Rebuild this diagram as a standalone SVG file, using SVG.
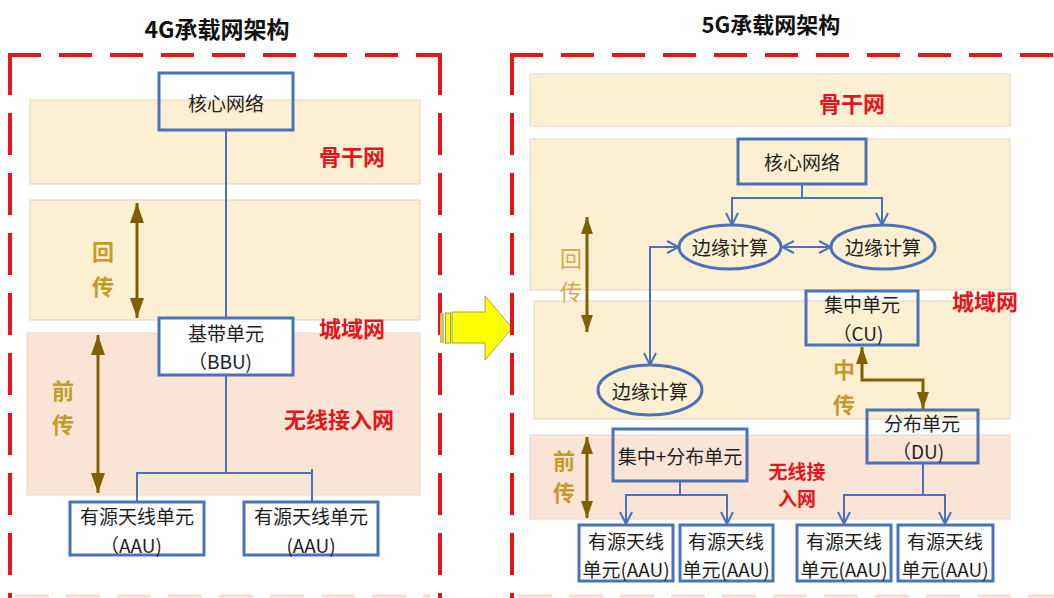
<svg xmlns="http://www.w3.org/2000/svg" width="1054" height="598" viewBox="0 0 1054 598">
<style>
.band{fill:#fdf0d2;stroke:#ddd6c6;stroke-width:1}
.pink{fill:#fae4d5;stroke:#e6d6cc;stroke-width:1}
.box{fill:none;stroke:#4a72b8;stroke-width:3}
.boxw{fill:#ffffff;stroke:#4a72b8;stroke-width:3}
.ell{fill:none;stroke:#4a72b8;stroke-width:3}
.t{font-family:"Noto Sans CJK SC","Noto Sans",sans-serif;font-size:19px;fill:#1e1e1e;text-anchor:middle;dominant-baseline:central}
.r{font-family:"Noto Sans CJK SC","Noto Sans",sans-serif;font-size:22px;font-weight:bold;fill:#e8141c;text-anchor:middle;dominant-baseline:central}
.g{font-family:"Noto Sans CJK SC","Noto Sans",sans-serif;font-size:22px;font-weight:bold;fill:#c49a2b;text-anchor:middle;dominant-baseline:central}
.title{font-family:"Noto Sans CJK SC","Noto Sans",sans-serif;font-size:23px;font-weight:bold;fill:#111;text-anchor:middle;dominant-baseline:central}
.frameH{fill:none;stroke:#e8141c;stroke-width:4;stroke-dasharray:33 18}
.frameV{fill:none;stroke:#e8141c;stroke-width:4;stroke-dasharray:42 18}
.conn{fill:none;stroke:#4a72b8;stroke-width:2}
.brown{fill:none;stroke:#7f6000;stroke-width:3}
</style>
<defs>
<marker id="open" viewBox="0 0 14 14" refX="13" refY="7" markerWidth="14" markerHeight="14" markerUnits="userSpaceOnUse" orient="auto-start-reverse">
<path d="M1,1 L13,7 L1,13" fill="none" stroke="#4a72b8" stroke-width="2"/>
</marker>
<marker id="tri" viewBox="0 0 20 14" refX="20" refY="7" markerWidth="20" markerHeight="14" markerUnits="userSpaceOnUse" orient="auto-start-reverse">
<path d="M0,0 L20,7 L0,14 Z" fill="#7f6000"/>
</marker>
<marker id="triS" viewBox="0 0 17 12" refX="17" refY="6" markerWidth="17" markerHeight="12" markerUnits="userSpaceOnUse" orient="auto-start-reverse">
<path d="M0,0 L17,6 L0,12 Z" fill="#7f6000"/>
</marker>
</defs>
<rect width="1054" height="598" fill="#ffffff"/>

<!-- titles -->
<text class="title" x="217" y="28">4G承载网架构</text>
<text class="title" x="771" y="23" style="font-size:22px">5G承载网架构</text>

<!-- left bands -->
<rect class="band" x="30" y="100" width="390" height="84"/>
<rect class="band" x="30" y="200" width="390" height="120"/>
<rect class="pink" x="27" y="333" width="393" height="162"/>

<!-- right bands -->
<rect class="band" x="530" y="74" width="480" height="52"/>
<rect class="band" x="530" y="139" width="480" height="151"/>
<rect class="band" x="534" y="301" width="476" height="118"/>
<rect class="pink" x="530" y="435" width="480" height="84"/>

<!-- bottom peach dashes -->
<line x1="15" y1="596" x2="430" y2="596" stroke="#fcdcc6" stroke-width="3" stroke-dasharray="34 17"/>
<line x1="518" y1="596" x2="1054" y2="596" stroke="#fcdcc6" stroke-width="3" stroke-dasharray="34 17"/>

<!-- left frame -->
<g id="frame4g">
<line class="frameH" x1="8" y1="55" x2="442" y2="55"/>
<line class="frameV" x1="10" y1="53" x2="10" y2="598"/>
<line class="frameV" x1="440" y1="53" x2="440" y2="598"/>
</g>

<!-- center arrow -->
<g id="bigArrow">
<rect x="440" y="313" width="4" height="30" fill="#c4c86c"/>
<rect x="445.5" y="313" width="5" height="30" fill="#ffff00" stroke="#9aa060" stroke-width="1"/>
<polygon points="452,312 485,312 485,296 512,328 485,360 485,343 452,343" fill="#ffff00" stroke="#a0a050" stroke-width="1"/>
</g>

<!-- right frame -->
<g id="frame5g">
<line class="frameH" x1="510" y1="55" x2="1054" y2="55"/>
<line class="frameV" x1="512" y1="53" x2="512" y2="598"/>
</g>

<!-- labels -->
<text class="r" x="352" y="155">骨干网</text>
<text class="r" x="352" y="327">城域网</text>
<text class="r" x="339" y="418">无线接入网</text>
<text class="g" x="103" y="250">回</text>
<text class="g" x="103" y="285">传</text>
<text class="g" x="63" y="389">前</text>
<text class="g" x="63" y="423">传</text>

<text class="r" x="852" y="102">骨干网</text>
<text class="r" x="985" y="300">城域网</text>
<text class="r" x="797" y="470" style="font-size:19px">无线接</text>
<text class="r" x="797" y="497" style="font-size:19px">入网</text>
<text class="g" x="571" y="257" style="fill:#d2ac48;font-weight:normal">回</text>
<text class="g" x="571" y="290" style="fill:#d2ac48;font-weight:normal">传</text>
<text class="g" x="844" y="368">中</text>
<text class="g" x="844" y="403">传</text>
<text class="g" x="564" y="459">前</text>
<text class="g" x="564" y="491">传</text>

<!-- connectors -->
<g id="connectors">
<path class="conn" d="M226,130 V318"/>
<path class="conn" d="M226,375 V473"/>
<path class="conn" d="M137,502 V473 H312"/>
<path class="conn" d="M312,469 V502"/>
<path class="brown" d="M137,203 V318" marker-start="url(#tri)" marker-end="url(#tri)"/>
<path class="brown" d="M98,335 V493" marker-start="url(#tri)" marker-end="url(#tri)"/>

<path class="conn" d="M802,184 V198"/>
<path class="conn" d="M732,225 V198 H882 V225" marker-start="url(#open)" marker-end="url(#open)"/>
<path class="conn" d="M782,247 H831" marker-start="url(#open)" marker-end="url(#open)"/>
<path class="conn" d="M650,365 V247 H679" marker-start="url(#open)" marker-end="url(#open)"/>
<path class="conn" d="M923,463 V495"/>
<path class="conn" d="M844,524 V495 H945 V524" marker-start="url(#open)" marker-end="url(#open)"/>
<path class="conn" d="M680,481 V495"/>
<path class="conn" d="M626,524 V495 H727 V524" marker-start="url(#open)" marker-end="url(#open)"/>
<path class="brown" d="M587,217 V332" marker-start="url(#triS)" marker-end="url(#triS)"/>
<path class="brown" d="M587,437 V518" marker-start="url(#triS)" marker-end="url(#triS)"/>
<path class="brown" d="M862,347 V380 H923 V409" marker-start="url(#triS)" marker-end="url(#triS)"/>
</g>

<!-- 4G nodes -->
<g id="core4g">
<rect class="box" x="159" y="73" width="134" height="57"/>
<text class="t" x="226" y="102">核心网络</text>
</g>
<g id="bbu">
<rect class="boxw" x="159" y="318" width="134" height="57"/>
<text class="t" x="226" y="332">基带单元</text>
<text class="t" x="220" y="360">（BBU)</text>
</g>
<g id="aau4g1">
<rect class="boxw" x="70" y="502" width="134" height="53"/>
<text class="t" x="137" y="515">有源天线单元</text>
<text class="t" x="131" y="544">（AAU)</text>
</g>
<g id="aau4g2">
<rect class="boxw" x="244" y="502" width="134" height="53"/>
<text class="t" x="311" y="515">有源天线单元</text>
<text class="t" x="311" y="544">(AAU)</text>
</g>

<!-- 5G nodes -->
<g id="core5g">
<rect class="box" x="738" y="139" width="128" height="45"/>
<text class="t" x="802" y="161">核心网络</text>
</g>
<g id="edge1">
<ellipse class="ell" cx="730" cy="247" rx="51" ry="22"/>
<text class="t" x="730" y="246">边缘计算</text>
</g>
<g id="edge2">
<ellipse class="ell" cx="883" cy="247" rx="52" ry="22"/>
<text class="t" x="883" y="246">边缘计算</text>
</g>
<g id="edge3">
<ellipse class="ell" cx="650" cy="390" rx="52" ry="25"/>
<text class="t" x="650" y="390">边缘计算</text>
</g>
<g id="cu">
<rect class="box" x="806" y="291" width="112" height="54"/>
<text class="t" x="862" y="303">集中单元</text>
<text class="t" x="858" y="332">（CU)</text>
</g>
<g id="du">
<rect class="box" x="867" y="410" width="111" height="53"/>
<text class="t" x="922" y="422">分布单元</text>
<text class="t" x="918" y="450">（DU)</text>
</g>
<g id="cudu">
<rect class="box" x="613" y="429" width="134" height="52"/>
<text class="t" x="680" y="455">集中+分布单元</text>
</g>
<g id="aau5g1">
<rect class="boxw" x="579" y="525" width="94" height="56"/>
<text class="t" x="626" y="540">有源天线</text>
<text class="t" x="626" y="568">单元(AAU)</text>
</g>
<g id="aau5g2">
<rect class="boxw" x="680" y="525" width="93" height="56"/>
<text class="t" x="726" y="540">有源天线</text>
<text class="t" x="726" y="568">单元(AAU)</text>
</g>
<g id="aau5g3">
<rect class="boxw" x="797" y="525" width="94" height="56"/>
<text class="t" x="844" y="540">有源天线</text>
<text class="t" x="844" y="568">单元(AAU)</text>
</g>
<g id="aau5g4">
<rect class="boxw" x="898" y="525" width="95" height="56"/>
<text class="t" x="945" y="540">有源天线</text>
<text class="t" x="945" y="568">单元(AAU)</text>
</g>
</svg>
